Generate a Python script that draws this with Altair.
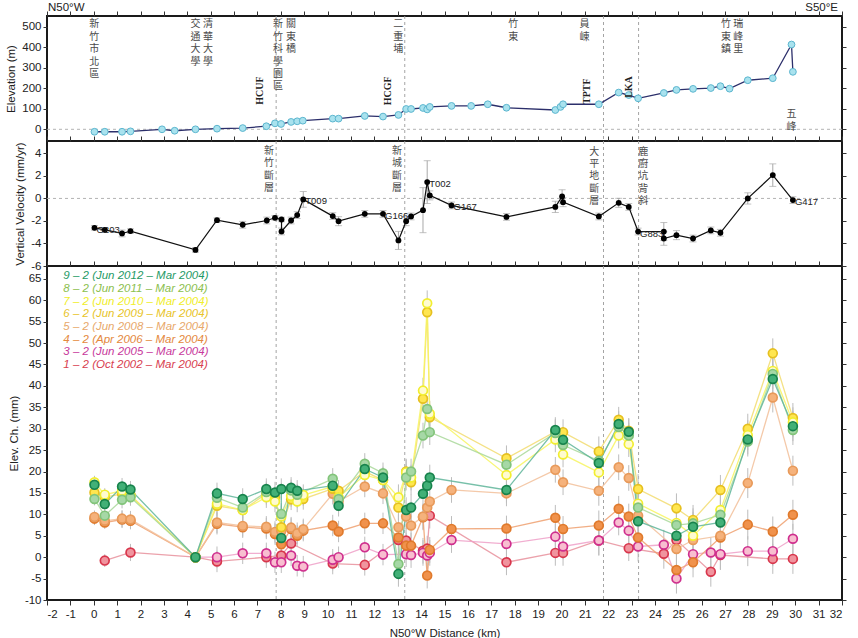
import altair as alt
import pandas as pd

# ---------------------------------------------------------------- shared axis
KM_DOMAIN = [-2, 32]
KM_TICKS = list(range(-2, 33))
FAULT_KM = [7.8, 13.3, 21.8, 23.3]

# ---------------------------------------------------------------- elevation profile
ELEV_KM = [0.03, 0.47, 1.21, 1.57, 2.92, 3.46, 4.35, 5.27, 6.37, 7.38, 7.75, 8.01,
           8.44, 8.70, 8.94, 10.22, 10.47, 11.59, 12.37, 13.03, 13.36, 13.57, 14.08,
           14.26, 14.37, 15.30, 16.14, 16.85, 17.65, 19.74, 19.96, 20.07, 21.60, 22.45,
           22.88, 23.28, 24.38, 24.92, 25.63, 26.39, 26.80, 27.19, 27.97, 29.04, 29.84, 29.90]
ELEV_M = [-12, -12, -12, -10, 0, -7, 0, 3, 6, 15, 29, 26, 36, 39, 42, 52, 52, 65, 62, 70,
          99, 99, 104, 97, 109, 114, 114, 122, 105, 94, 109, 122, 122, 179, 167, 151, 177,
          192, 197, 201, 210, 198, 239, 249, 413, 280]

PLACE_NAMES = ["新竹市北區", "交通大學", "清華大學", "新竹科學園區", "關東橋", "二重埔",
               "竹東", "員崠", "竹東鎮", "瑞峰里", "五峰"]
PLACE_KM = [0.02, 4.35, 4.89, 7.88, 8.43, 13.02, 17.94, 20.99, 27.04, 27.56, 29.84]
PLACE_TOP = [535, 535, 535, 535, 535, 535, 535, 535, 535, 535, 98]

FAULT_CODES = ["HCUF", "HCGF", "TPTF", "LKA"]
FAULT_CODE_KM = [7.13, 12.59, 21.10, 22.91]
FAULT_CODE_ELEV = [189, 187, 186, 206]

# ---------------------------------------------------------------- GPS vertical velocity
VEL_KM = [0.03, 0.47, 1.21, 1.57, 4.35, 5.27, 6.37, 7.40, 7.75, 8.03, 8.03, 8.44, 8.70,
          8.96, 10.22, 10.47, 11.59, 12.37, 13.03, 13.36, 13.57, 14.08, 14.26, 14.37,
          15.30, 17.65, 19.74, 20.03, 20.07, 21.60, 22.45, 22.88, 23.28, 24.38, 24.38,
          24.92, 25.63, 26.39, 26.80, 27.97, 29.04, 29.90]
VEL = [-2.61, -2.79, -3.11, -2.90, -4.57, -1.93, -2.34, -1.96, -1.72, -1.87, -2.93, -1.96,
       -1.48, -0.09, -1.57, -2.02, -1.37, -1.37, -3.73, -2.02, -1.60, -1.04, 1.45, 0.27,
       -0.62, -1.64, -0.75, 0.17, -0.33, -1.60, -0.39, -0.75, -2.94, -2.94, -3.56, -3.26,
       -3.56, -2.84, -3.05, 0.00, 2.07, -0.15]
VEL_ERR = [0.2, 0.2, 0.3, 0.2, 0.2, 0.2, 0.3, 0.3, 0.2, 0.2, 0.3, 0.3, 0.3, 0.7, 0.3, 0.4,
           0.3, 0.3, 0.8, 0.4, 0.3, 2.0, 1.9, 0.4, 0.3, 0.3, 0.5, 0.6, 0.4, 0.3, 0.4, 0.3,
           0.3, 0.8, 0.6, 0.4, 0.3, 0.3, 0.3, 0.5, 1.0, 0.3]

STATION_NAMES = ["G203", "T009", "G166", "T002", "G167", "G883", "G417"]
STATION_KM = [0.03, 8.96, 12.37, 14.26, 15.30, 23.28, 29.90]
STATION_VEL = [-2.61, -0.09, -1.37, 1.45, -0.62, -2.94, -0.15]

STRUCT_NAMES = ["新竹斷層", "新城斷層", "大平地斷層", "鹿廚坑背斜"]
STRUCT_KM = [7.49, 12.97, 21.40, 23.50]
STRUCT_TOP = [4.66, 4.66, 4.6, 4.6]

# ---------------------------------------------------------------- leveling elevation change
LEV_KM = [0.03, 0.47, 1.21, 1.57, 4.35, 5.27, 6.37, 7.38, 7.75, 8.02, 8.02, 8.44, 8.70,
          8.96, 10.22, 10.47, 11.59, 12.37, 13.03, 13.36, 13.57, 14.08, 14.26, 14.37,
          15.30, 17.65, 19.74, 20.07, 21.60, 22.45, 22.88, 23.28, 24.38, 24.92, 25.63,
          26.39, 26.80, 27.97, 29.04, 29.90]
LEV_ERR = [1.5, 1.5, 2.0, 2.0, 0.5, 2.5, 2.5, 2.5, 2.5, 2.5, 2.5, 2.5, 2.5, 2.5, 2.5, 2.5,
           2.5, 2.5, 3.0, 3.0, 3.0, 3.0, 3.0, 3.0, 3.0, 3.0, 3.0, 3.0, 3.5, 3.0, 3.0, 3.5,
           3.5, 3.5, 3.5, 3.5, 3.5, 3.5, 3.5, 3.5]
N = None
CH_9_2 = [16.9, 12.4, 16.5, 15.8, 0.0, 14.9, 13.6, 15.9, 15.1, 15.9, 4.5, 16.2, 15.5, N,
          16.7, 12.0, 20.6, 18.6, -3.9, 11.0, 11.6, 14.8, 16.7, 18.6, N, 15.7, 29.7, 27.4,
          22.0, 31.1, 29.3, 8.4, N, 5.0, 7.1, N, 8.1, 27.5, 41.6, 30.6]
CH_8_2 = [13.6, 9.7, 13.4, 14.0, 0.0, 13.9, 11.6, 15.2, N, 10.1, N, 15.6, 14.6, N, 18.3,
          13.6, 21.8, 19.6, -1.6, 18.6, 20.0, 28.4, 34.6, 29.2, N, 21.6, 29.0, 26.2, 22.5,
          30.4, 28.4, 11.6, N, 7.5, 7.9, N, 9.9, 27.0, 42.8, 29.7]
CH_7_2 = [17.5, 14.6, 15.5, 14.3, 0.0, 12.5, 11.0, 14.0, 13.0, 9.5, N, 14.3, 13.0, 14.5,
          16.5, 14.0, 19.2, 18.0, 14.0, 19.8, 18.6, 38.9, 59.3, 33.5, N, 19.2, 27.5, 24.0,
          19.8, 28.4, 26.4, 12.5, N, 8.0, 5.0, N, 11.0, 28.5, 43.5, 31.5]
CH_6_2 = [15.1, 14.0, 14.8, 14.5, 0.0, 12.0, 11.0, 14.8, 14.0, 7.0, N, 13.5, 14.0, 13.6,
          16.0, 15.5, 20.0, 18.0, 11.6, 20.0, 17.5, 37.0, 57.2, 32.7, N, 23.1, 29.3, 29.2,
          24.7, 32.1, 29.5, 15.9, N, 11.4, 8.7, N, 15.7, 30.0, 47.6, 32.5]
CH_5_2 = [9.4, 8.5, 9.0, 8.8, 0.0, 8.1, 7.3, 7.1, 5.9, 6.1, N, 6.9, 5.6, 6.5, 14.8, 13.0,
          16.5, 14.9, 7.0, 9.5, 7.4, 9.5, 11.6, 13.0, 15.7, 14.9, 20.4, 17.5, 15.5, 21.0,
          18.5, 9.7, N, 1.9, 4.0, N, 5.0, 17.3, 37.3, 20.2]
CH_4_2 = [9.0, 8.1, 8.8, 8.5, 0.0, 7.8, 7.0, 6.7, 5.4, 3.0, N, 6.6, 5.0, 6.2, 7.4, 6.0,
          7.9, 7.9, 4.6, 2.7, 2.7, 9.3, -4.3, 1.7, 6.6, 6.7, 9.2, 6.6, 7.4, 11.3, 9.5, 4.6,
          N, -3.0, -1.2, N, 4.6, 7.6, 6.0, 9.9]
CH_3_2 = [N, N, N, N, 0.0, 0.0, 0.9, 0.9, -1.2, -1.2, N, 0.4, -2.0, -2.2, -0.6, 0.0, 2.3,
          0.6, N, 0.7, 0.5, 1.0, 0.4, 1.0, 4.0, 3.1, 4.8, 2.5, 3.9, 8.1, 6.2, 2.5, 2.9,
          -5.0, 0.7, 1.1, 0.7, 1.4, 1.4, 4.3]
CH_1_2 = [N, -0.8, N, 1.1, 0.0, -1.0, N, 0.0, N, 0.4, N, 3.2, N, N, -1.5, N, -1.8, N, 4.0,
          3.9, N, 1.5, 2.0, 9.7, N, -1.2, 1.0, 1.0, 3.9, N, 2.1, N, 0.8, 4.0, N, -3.4, 0.5,
          N, -0.4, -0.4]

SERIES_KEYS = ["9-2", "8-2", "7-2", "6-2", "5-2", "4-2", "3-2", "1-2"]
SERIES_VALUES = [CH_9_2, CH_8_2, CH_7_2, CH_6_2, CH_5_2, CH_4_2, CH_3_2, CH_1_2]
SERIES_LABELS = ["9 – 2 (Jun 2012 – Mar 2004)", "8 – 2 (Jun 2011 – Mar 2004)",
                 "7 – 2 (Jun 2010 – Mar 2004)", "6 – 2 (Jun 2009 – Mar 2004)",
                 "5 – 2 (Jun 2008 – Mar 2004)", "4 – 2 (Apr 2006 – Mar 2004)",
                 "3 – 2 (Jun 2005 – Mar 2004)", "1 – 2 (Oct 2002 – Mar 2004)"]
LABEL_COLORS = ["#1f9a66", "#8cc04e", "#f0ee2a", "#e8c428", "#e8a86a", "#e4883c",
                "#c8399c", "#d8404f"]
LINE_COLORS = ["#5fb59a", "#a9d89a", "#f7f560", "#f2dc70", "#f2c09a", "#efa070",
               "#eea0c8", "#e8909c"]
FILL_COLORS = ["#42b077", "#a6d8a6", "#fffbd0", "#ffe650", "#f5b27c", "#f0924c",
               "#f8bed0", "#f0949e"]
STROKE_COLORS = ["#17834c", "#82c47a", "#f2ee30", "#e6c020", "#e89a5a", "#e07a2c",
                 "#cf2f8e", "#d8364c"]
LEGEND_Y = [65.6, 62.6, 59.7, 56.7, 53.7, 50.8, 47.8, 44.8]

FONT = "Liberation Sans"
CJK = "Noto Sans CJK TC"
CJK_SIZE = 10
CJK_LINE = 12.4
WIDTH = 795
PLAIN_NUM = "toString(datum.value)"

x_scale = alt.Scale(domain=KM_DOMAIN, nice=False, zero=False)
x_plain = alt.X("km:Q", scale=x_scale, axis=None)


def frame_ticks(y_domain, y_values):
    """Invisible layer that carries the top and right tick marks of a panel."""
    df = pd.DataFrame({"x": [KM_DOMAIN[0]], "y": [y_domain[0]]})
    return alt.Chart(df).mark_point(opacity=0).encode(
        x=alt.X("x:Q", scale=alt.Scale(domain=KM_DOMAIN, nice=False, zero=False),
                axis=alt.Axis(orient="top", values=KM_TICKS, labels=False, title=None,
                              tickSize=5)),
        y=alt.Y("y:Q", scale=alt.Scale(domain=y_domain, nice=False, zero=False),
                axis=alt.Axis(orient="right", values=y_values, labels=False, title=None,
                              tickSize=4)),
    )


def fault_lines(x_enc):
    df = pd.DataFrame({"km": FAULT_KM})
    return alt.Chart(df).mark_rule(color="#9a9a9a", strokeDash=[3, 3],
                                   strokeWidth=0.9).encode(x=x_enc)


def vertical_text(names):
    return ["\n".join(list(n)) for n in names]


# ================================================================ top: elevation
ELEV_DOMAIN = [-57, 552]
ELEV_TICKS = [0, 100, 200, 300, 400, 500]
elev_df = pd.DataFrame({"km": ELEV_KM, "elev": ELEV_M, "i": range(len(ELEV_KM))})
elev_y = alt.Y("elev:Q", scale=alt.Scale(domain=ELEV_DOMAIN, nice=False, zero=False),
               axis=alt.Axis(values=ELEV_TICKS, title="Elevation (m)", labelOverlap=False,
                             labelExpr=PLAIN_NUM))

elev_line = alt.Chart(elev_df).mark_line(color="#2c2f6b", strokeWidth=1.3).encode(
    x=x_plain, y=elev_y, order="i:Q")
elev_pts = alt.Chart(elev_df).mark_circle(size=46, fill="#a9e2ee", stroke="#5cb6cf",
                                           strokeWidth=1, opacity=1).encode(x=x_plain, y=elev_y)
zero_rule_top = alt.Chart(pd.DataFrame({"elev": [0]})).mark_rule(
    color="#aaaaaa", strokeDash=[3, 3], strokeWidth=0.9).encode(y=elev_y)

place_df = pd.DataFrame({"km": PLACE_KM, "elev": PLACE_TOP,
                         "name": vertical_text(PLACE_NAMES)})
place_txt = alt.Chart(place_df).mark_text(
    lineBreak="\n", baseline="top", align="center", font=CJK, fontSize=CJK_SIZE,
    lineHeight=CJK_LINE, color="#4a4a4a").encode(x=x_plain, y=elev_y, text="name:N")

code_df = pd.DataFrame({"km": FAULT_CODE_KM, "elev": FAULT_CODE_ELEV, "code": FAULT_CODES})
code_txt = alt.Chart(code_df).mark_text(
    angle=270, font="Liberation Serif", fontWeight="bold", fontSize=10, color="#222",
    baseline="middle", align="center").encode(x=x_plain, y=elev_y, text="code:N")

dir_df = pd.DataFrame({"km": [KM_DOMAIN[0], KM_DOMAIN[1]], "elev": [590, 590],
                       "t": ["N50°W", "S50°E"]})
dir_left = alt.Chart(dir_df.iloc[[0]]).mark_text(
    align="left", baseline="middle", font=FONT, fontSize=11.5, color="#222", dx=1).encode(
    x=x_plain, y=elev_y, text="t:N")
dir_right = alt.Chart(dir_df.iloc[[1]]).mark_text(
    align="right", baseline="middle", font=FONT, fontSize=11.5, color="#222", dx=-4).encode(
    x=x_plain, y=elev_y, text="t:N")

top_main = alt.layer(zero_rule_top, fault_lines(x_plain), elev_line, elev_pts, place_txt,
                     code_txt, dir_left, dir_right)
top_panel = alt.layer(top_main, frame_ticks(ELEV_DOMAIN, ELEV_TICKS)).resolve_scale(
    x="independent", y="independent").properties(width=WIDTH, height=125)

# ================================================================ middle: velocity
VEL_DOMAIN = [-6, 5.1]
VEL_TICKS = [-6, -4, -2, 0, 2, 4]
vel_df = pd.DataFrame({"km": VEL_KM, "v": VEL, "err": VEL_ERR, "i": range(len(VEL_KM))})
vel_df["lo"] = vel_df["v"] - vel_df["err"]
vel_df["hi"] = vel_df["v"] + vel_df["err"]
vel_scale = alt.Scale(domain=VEL_DOMAIN, nice=False, zero=False)
vel_axis = alt.Axis(values=VEL_TICKS, title="Vertical Velocity (mm/yr)", labelOverlap=False,
                    labelExpr=PLAIN_NUM)
vel_y = alt.Y("v:Q", scale=vel_scale, axis=vel_axis)
vel_lo = alt.Y("lo:Q", scale=vel_scale, axis=vel_axis)
vel_hi = alt.Y("hi:Q", scale=vel_scale, axis=vel_axis)

vel_err = alt.Chart(vel_df).mark_rule(color="#a8a8a8", strokeWidth=1).encode(
    x=x_plain, y=vel_lo, y2="hi:Q")
vel_cap_lo = alt.Chart(vel_df).mark_tick(orient="horizontal", size=7, thickness=1,
                                         color="#a8a8a8").encode(x=x_plain, y=vel_lo)
vel_cap_hi = alt.Chart(vel_df).mark_tick(orient="horizontal", size=7, thickness=1,
                                         color="#a8a8a8").encode(x=x_plain, y=vel_hi)
vel_line = alt.Chart(vel_df).mark_line(color="#111", strokeWidth=1.2).encode(
    x=x_plain, y=vel_y, order="i:Q")
vel_pts = alt.Chart(vel_df).mark_circle(size=34, color="#000", opacity=1).encode(
    x=x_plain, y=vel_y)
zero_rule_mid = alt.Chart(pd.DataFrame({"v": [0]})).mark_rule(
    color="#aaaaaa", strokeDash=[3, 3], strokeWidth=0.9).encode(y=vel_y)

stn_df = pd.DataFrame({"km": STATION_KM, "v": STATION_VEL, "name": STATION_NAMES})
stn_txt = alt.Chart(stn_df).mark_text(
    align="left", baseline="middle", dx=2, dy=2, font=FONT, fontSize=9.5,
    color="#222").encode(x=x_plain, y=vel_y, text="name:N")

struct_df = pd.DataFrame({"km": STRUCT_KM, "v": STRUCT_TOP,
                          "name": vertical_text(STRUCT_NAMES)})
struct_txt = alt.Chart(struct_df).mark_text(
    lineBreak="\n", baseline="top", align="center", font=CJK, fontSize=CJK_SIZE,
    lineHeight=CJK_LINE, color="#4a4a4a").encode(x=x_plain, y=vel_y, text="name:N")

mid_main = alt.layer(zero_rule_mid, fault_lines(x_plain), vel_err, vel_cap_lo, vel_cap_hi,
                     vel_line, vel_pts, stn_txt, struct_txt)
mid_panel = alt.layer(mid_main, frame_ticks(VEL_DOMAIN, VEL_TICKS)).resolve_scale(
    x="independent", y="independent").properties(width=WIDTH, height=125)

# ================================================================ bottom: elevation change
CH_DOMAIN = [-10, 68]
CH_TICKS = list(range(-10, 70, 5))
rows = []
for s_rank, (key, vals) in enumerate(zip(SERIES_KEYS, SERIES_VALUES)):
    for i, (km, mm, err) in enumerate(zip(LEV_KM, vals, LEV_ERR)):
        if mm is None:
            continue
        rows.append({"key": key, "km": km, "mm": mm, "lo": mm - err, "hi": mm + err,
                     "i": i, "z": len(SERIES_KEYS) - s_rank})
ch_df = pd.DataFrame(rows).sort_values(["z", "i"]).reset_index(drop=True)

ch_scale = alt.Scale(domain=CH_DOMAIN, nice=False, zero=False)
km_axis = alt.Axis(values=KM_TICKS, title="N50°W Distance (km)", labelExpr=PLAIN_NUM,
                   tickSize=5, labelPadding=3, titlePadding=8, labelOverlap=False)
ch_axis = alt.Axis(values=CH_TICKS, title="Elev. Ch. (mm)", labelOverlap=False,
                   labelExpr=PLAIN_NUM)
ch_x = alt.X("km:Q", scale=x_scale, axis=km_axis)
ch_y = alt.Y("mm:Q", scale=ch_scale, axis=ch_axis)

ch_err = alt.Chart(ch_df).mark_rule(color="#bdbdbd", strokeWidth=1).encode(
    x=ch_x, y=alt.Y("lo:Q", scale=ch_scale, axis=ch_axis), y2="hi:Q")
ch_lines = alt.Chart(ch_df).mark_line(strokeWidth=1.3, opacity=0.85).encode(
    x=ch_x, y=ch_y,
    color=alt.Color("key:N", scale=alt.Scale(domain=SERIES_KEYS, range=LINE_COLORS),
                    legend=None),
    order="i:Q")
ch_pts = alt.Chart(ch_df).mark_circle(size=78, strokeWidth=1.7, opacity=1).encode(
    x=ch_x, y=ch_y,
    fill=alt.Fill("key:N", scale=alt.Scale(domain=SERIES_KEYS, range=FILL_COLORS),
                  legend=None),
    stroke=alt.Stroke("key:N", scale=alt.Scale(domain=SERIES_KEYS, range=STROKE_COLORS),
                      legend=None),
    order="z:Q")

legend_df = pd.DataFrame({"km": [-1.3] * len(SERIES_LABELS), "mm": LEGEND_Y,
                          "label": SERIES_LABELS, "key": SERIES_KEYS})
legend_txt = alt.Chart(legend_df).mark_text(
    align="left", baseline="middle", font=FONT, fontSize=11.5, fontStyle="italic").encode(
    x=ch_x, y=ch_y, text="label:N",
    color=alt.Color("key:N", scale=alt.Scale(domain=SERIES_KEYS, range=LABEL_COLORS),
                    legend=None))

bot_main = alt.layer(fault_lines(ch_x), ch_err, ch_lines, ch_pts).resolve_scale(
    color="independent")
bot_main = alt.layer(bot_main, legend_txt).resolve_scale(color="independent")
bot_panel = alt.layer(bot_main, frame_ticks(CH_DOMAIN, CH_TICKS)).resolve_scale(
    x="independent", y="independent").properties(width=WIDTH, height=334)

chart = alt.vconcat(top_panel, mid_panel, bot_panel, spacing=0, bounds="flush").properties(
    padding={"left": 4, "top": 1, "right": 10, "bottom": 0},
    background="white",
).configure_view(
    stroke="#1a1a1a", strokeWidth=2
).configure_axis(
    labelFont=FONT, labelFontSize=11.5, labelColor="#222", titleFont=FONT,
    titleFontSize=11.5, titleFontWeight="normal", titleColor="#222", grid=False,
    domain=False, tickColor="#333", tickSize=4, labelPadding=2, titlePadding=5,
)

chart.save("out.html", embed_options={"renderer": "svg", "actions": False})
